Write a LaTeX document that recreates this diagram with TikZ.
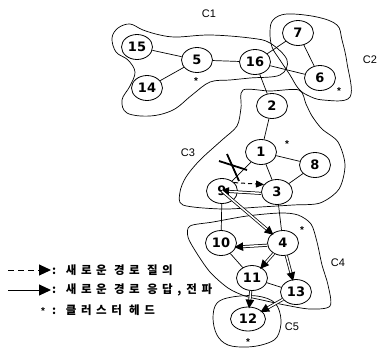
\documentclass[tikz,border=0pt]{standalone}
\usepackage{fontspec}
\setmainfont{Liberation Sans}
\newfontfamily\numfont{DejaVu Sans}
\newfontfamily\kr[LetterSpace=40]{Noto Sans CJK KR}
\usetikzlibrary{shapes.geometric,arrows.meta}
\begin{document}
\begin{tikzpicture}[x=1pt,y=-1pt,
 nd/.style={ellipse, draw, line width=0.8pt, minimum width=31pt, minimum height=25pt, inner sep=0pt, font=\fontsize{13}{13}\numfont\bfseries},
 edge/.style={line width=0.7pt},
 resp/.style={line width=3pt, -{Triangle[length=9pt,width=8pt]}, shorten >=-2pt,
   postaction={draw=white, line width=1.5pt, -, shorten >=7pt}},
 qry/.style={dash pattern=on 4pt off 3pt, line width=1pt, -{Triangle[length=8pt,width=7pt]}},
 clus/.style={line width=0.7pt},
 clab/.style={font=\fontsize{11}{12}\selectfont, inner sep=0pt},
 hd/.style={font=\fontsize{10}{10}\selectfont\bfseries, inner sep=0pt},
 lgtext/.style={anchor=west, inner sep=0pt, font=\fontsize{11.5}{12}\selectfont\kr\bfseries},
]
\useasboundingbox (0,0) rectangle (379,349);

% clusters
\draw[clus] plot[smooth cycle, tension=0.6] coordinates {(112,38) (118,28) (130,24) (143,30) (160,35) (177,37) (210,35) (250,38) (270,43) (287,60) (280,75) (250,78) (230,80) (210,82) (192,95) (173,110) (150,116) (127,113) (122,100) (130,86) (135,72) (128,60) (116,52)};
\draw[clus] plot[smooth cycle, tension=0.6] coordinates {(273,20) (287,14) (317,17) (337,25) (342,40) (347,63) (350,97) (323,100) (307,95) (298,88) (290,75) (280,60) (272,47) (270,32)};
\draw[clus] plot[smooth cycle, tension=0.5] coordinates {(243,90) (270,91) (299,90) (306,104) (312,116) (322,129) (338,142) (345,165) (339,189) (320,203) (293,205) (260,207) (222,209) (183,205) (180,192) (186,177) (200,160) (222,140) (237,126) (241,108)};
\draw[clus] plot[smooth cycle, tension=0.5] coordinates {(190,226) (213,222) (247,216) (280,213) (298,215) (311,224) (317,242) (322,265) (328,285) (330,306) (310,309) (285,305) (262,300) (245,296) (228,288) (210,272) (196,252) (188,237)};
\draw[clus] plot[smooth cycle, tension=0.6] coordinates {(217,303) (232,297) (257,296) (275,303) (281,320) (277,337) (265,344) (247,347) (228,345) (217,335) (213,318)};

% cluster labels
\node[clab] (c1) at (209,14) {C1};
\node[clab] (c2) at (370,60) {C2};
\node[clab] (c3) at (188,153) {C3};
\node[clab] (c4) at (338,263) {C4};
\node[clab] (c5) at (292,327) {C5};

% nodes
\node[nd] (n15) at (137,47) {15};
\node[nd] (n5) at (197,60) {5};
\node[nd] (n14) at (147,88) {14};
\node[nd] (n16) at (255,62) {16};
\node[nd] (n7) at (298,33) {7};
\node[nd] (n6) at (320,78) {6};
\node[nd] (n2) at (272,106) {2};
\node[nd] (n1) at (261,152) {1};
\node[nd] (n8) at (315,165) {8};
\node[nd] (n9) at (222,191) {9};
\node[nd] (n3) at (277,192) {3};
\node[nd] (n10) at (221,243) {10};
\node[nd] (n4) at (283,243) {4};
\node[nd] (n11) at (252,278) {11};
\node[nd] (n13) at (296,292) {13};
\node[nd, minimum width=35pt, minimum height=24pt] (n12) at (248,319) {12};

% cluster heads
\node[hd] (s5) at (196,81) {*};
\node[hd] (s6) at (339,91) {*};
\node[hd] (s1) at (287,144) {*};
\node[hd] (s4) at (302,230) {*};
\node[hd] (s12) at (248,342) {*};

% edges
\draw[edge] (n15) -- (n5);
\draw[edge] (n14) -- (n5);
\draw[edge] (n5) -- (n16);
\draw[edge] (n16) -- (n7);
\draw[edge] (n16) -- (n6);
\draw[edge] (n7) -- (n6);
\draw[edge] (n16) -- (n2);
\draw[edge] (n2) -- (n1);
\draw[edge] (n1) -- (n9);
\draw[edge] (n1) -- (n3);
\draw[edge] (n1) -- (n8);
\draw[edge] (n8) -- (n3);
\draw[edge] (n9) -- (n10);
\draw[edge] (n3) -- (n4);
\draw[edge] (n10) -- (n11);
\draw[edge] (n11) -- (n13);

% broken link mark
\coordinate (xa1) at (219,161);
\coordinate (xa2) at (247,170);
\coordinate (xb1) at (227,154);
\coordinate (xb2) at (239,181);
\draw[line width=1.8pt] (xa1) -- (xa2);
\draw[line width=1.8pt] (xb1) -- (xb2);

% query and responses
\draw[qry] (n9.35) -- (n3.150);
\draw[resp] (n3.185) -- (n9.center);
\draw[resp] (n9.center) -- (n4);
\draw[resp] (n4.188) -- (n10.345);
\draw[resp] (n4) -- (n11);
\draw[resp] (n4) -- (n13);
\draw[resp] (n11) -- (n12);
\draw[resp] (n13) -- (n12);

% legend
\coordinate (lq1) at (8,270);
\coordinate (lq2) at (51,270);
\coordinate (lr1) at (8,290);
\coordinate (lr2) at (51,290);
\draw[line width=1pt, dash pattern=on 6pt off 4pt, -{Triangle[length=12pt,width=11pt]}] (lq1) -- (lq2);
\draw[line width=1pt, -{Triangle[length=12pt,width=11pt]}] (lr1) -- (lr2);
\node[lgtext] (lt1) at (52,270) {: 새로운 경로 질의};
\node[lgtext] (lt2) at (52,290) {: 새로운 경로 응답,\hspace{5pt}전파};
\node[hd] (ls) at (43,311) {*};
\node[lgtext] (lt3) at (52,310) {: 클러스터 헤드};
\end{tikzpicture}
\end{document}
